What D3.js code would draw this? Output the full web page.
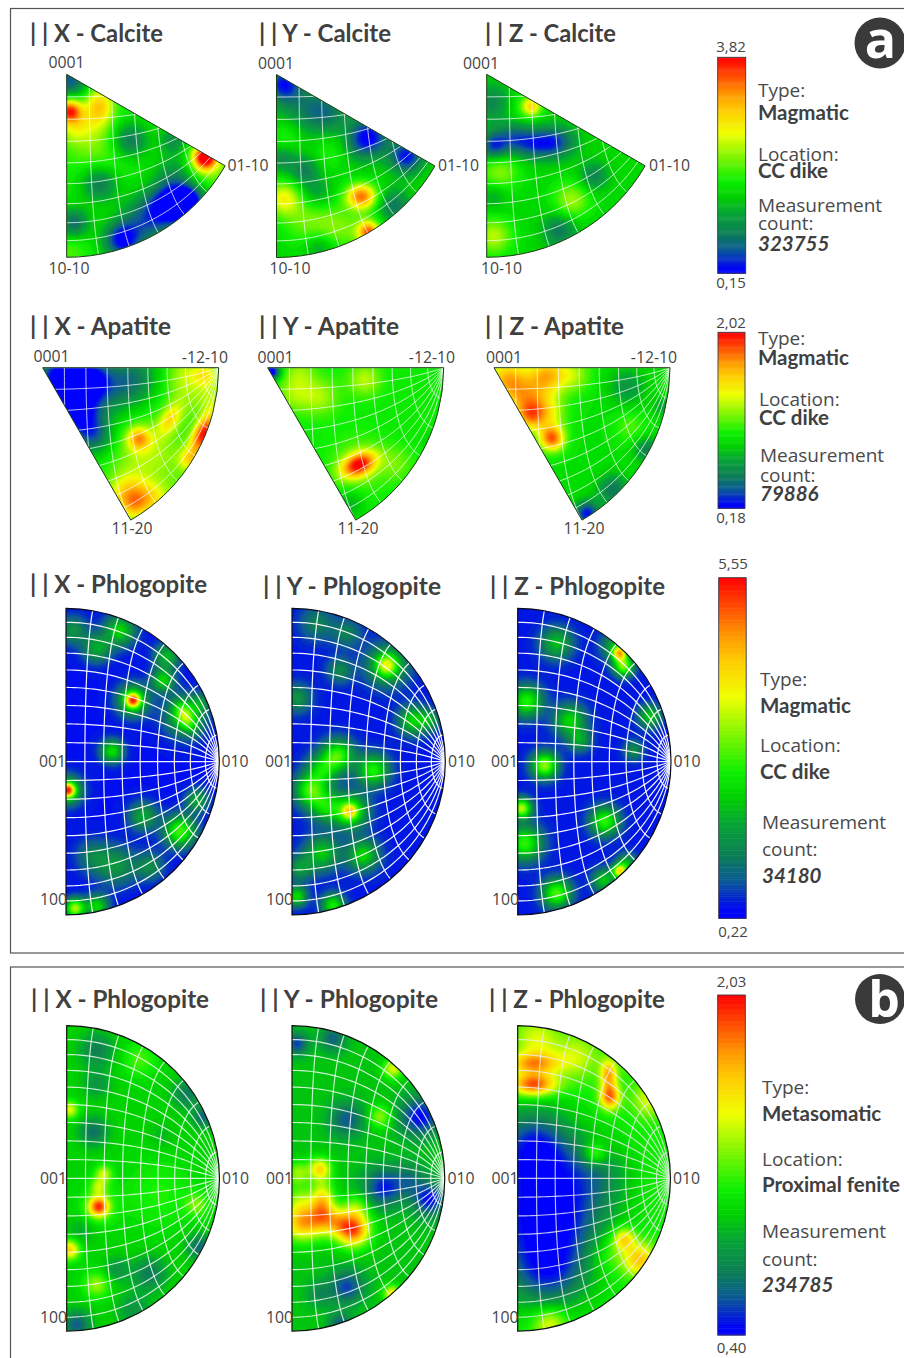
<!DOCTYPE html>
<html><head><meta charset="utf-8">
<style>html,body{margin:0;padding:0;background:#fff}svg{display:block}</style>
<script src="https://cdn.jsdelivr.net/npm/d3@7/dist/d3.min.js"></script>
</head><body><div id="c"></div>
<script>
// Colour scale levels
const colorLevels=[0,.03,.11,.185,.28,.355,.43,.525,.65,.756,.83,.91,1];
const colorValues=["#0000ff","#0008f0","#0a5a96","#0b7d55","#06a535","#00d000","#0cf000","#70f400","#f0ff00","#ffcc00","#ff9900","#ff5000","#ff0000"];

// Density hot/cold spots per pole figure: [offset right, offset down, level change, spread, spread2, tilt]
const calciteX=[[3,6,-.3,14],[3,36,.46,8],[8,50,.14,12],[33,31,.3,10,14],[17,53,.12,20],[63,66,-.25,13],[138,83,.55,8],[142,88,.2,14],
[117,130,-.38,14],[123,126,-.16,10],[55,166,-.38,13],[80,146,-.26,18],[100,130,-.26,15],[33,109,-.25,13],[7,149,-.26,11],[107,100,-.15,14],[107,66,-.18,10],[37,83,.08,20],[3,175,.08,12]];
const calciteY=[[7,9,-.3,12],[23,32,-.14,20],[50,39,-.18,16],[93,62,-.34,14],[130,82,-.34,12],[80,72,-.08,12],[10,59,.1,12],[53,76,.08,14],[28,96,-.18,11],[5,85,-.15,9],[40,119,-.12,11],
[7,124,.28,12],[85,122,.5,11,9],[30,146,.14,17],[60,152,.14,15],[92,157,.38,7],[92,160,.15,14],[117,132,-.2,12],[43,172,-.12,10]];
const calciteZ=[[7,29,-.18,14],[45,32,.33,7],[30,36,.08,14],[7,72,-.3,10],[53,69,-.32,20,11],[27,61,-.16,12],[73,66,-.1,12],[13,96,.18,14],[7,122,-.1,9],[85,126,.2,13],[7,162,.22,13],[73,156,-.2,12],[107,102,-.18,10]];
const apatiteX=[[17,9,-.42,15],[47,12,-.4,15],[31,39,-.4,17],[47,62,-.22,15],[91,9,-.2,18],[74,26,-.12,18],[144,7,.18,15],[164,7,.2,9],[171,32,.15,12],[127,52,.24,7,12,30],[140,35,.08,14],
[96,71,.3,8],[100,79,.1,20],[161,66,.55,7,15,25],[147,92,.2,8],[117,96,.1,30],[97,132,.32,20,12],[84,119,.14,14],[91,142,.1,9],[54,72,-.1,12]];
const apatiteY=[[4,4,-.45,6],[32,4,.12,11],[97,12,.18,12],[52,29,.16,14],[26,26,.14,13],[91,97,.5,13,8,-25],[91,97,.12,20],[129,96,.1,12],[82,136,-.12,10],[169,76,-.1,8]];
const apatiteZ=[[13,11,.36,15],[53,7,.34,13],[33,32,.31,16],[53,46,.22,13],[36,49,.24,10],[79,7,.18,13],[58,71,.48,9],[133,19,-.15,13],[93,146,-.36,9],[119,122,-.22,11],[153,82,-.2,9],[169,39,-.12,7],[136,59,.1,11]];
const phlogX=[[54,22,.33,11],[31,40,.25,10],[7,22,.2,10],[101,48,.28,9],[97,72,.33,8],[67,92,.58,5],[67,92,.38,11],[119,108,.28,6,11,-30],[119,108,.32,14],[46,143,.36,8],[2,182,.6,5],[2,182,.36,10],[77,208,.25,10],[114,223,.45,11],[131,192,.25,8],[51,258,.2,14],[27,248,.15,12],[84,258,.18,10],[9,300,.55,7],[31,298,.35,8],[134,95,.15,7]];
const phlogY=[[95,57,.3,7],[95,57,.34,14],[48,62,.17,9],[5,90,.2,10],[25,15,.15,12],[55,25,.15,10],[121,112,.33,10],[138,112,.2,7],[46,147,.42,11],[30,162,.3,11],[18,182,.4,11],[81,162,.4,11],[33,198,.3,11],[58,203,.3,5],[58,203,.44,12],[71,247,.33,11],[30,245,.3,12],[8,260,.2,9],[41,297,.38,8],[5,288,.35,7]];
const phlogZ=[[102,45,.55,5],[106,58,.48,7],[98,38,.25,10],[39,35,.28,11],[9,93,.4,11],[52,112,.33,11],[62,132,.22,8],[27,157,.52,9],[132,108,.3,8],[116,142,.18,7],[4,200,.55,7],[87,213,.42,10],[7,235,.42,12],[102,263,.6,5],[86,272,.3,8],[109,255,.25,7],[39,285,.45,10]];
const fenX=[[32,181,.5,7],[32,181,.1,14],[37,148,.24,6],[32,161,.2,6],[3,84,.28,6],[3,224,.38,7],[30,259,.2,9],[130,179,.16,8],[27,106,-.2,10],[30,24,-.17,12],[10,299,-.24,10],[83,248,-.18,12],[50,244,-.12,9],[30,58,-.12,10],[120,68,-.18,10],[137,91,-.22,8],[133,221,-.22,9],[67,284,-.12,12],[93,168,.08,25],[73,34,.12,12],[15,205,-.08,10],[95,110,-.05,10]];
const fenY=[[5,18,-.25,8],[41,13,-.2,9],[55,94,-.22,12],[91,162,-.28,14],[128,91,-.32,14],[138,174,-.3,12],[118,154,-.15,12],[55,261,-.25,12],[28,268,-.12,9],[48,298,-.2,8],[101,43,.3,7],[88,91,.22,8],[28,143,.36,8],[31,174,.32,8,14],[8,198,.38,13],[28,194,.28,12],[61,204,.58,12],[65,181,.18,9],[45,195,.2,10],[6,147,.22,8],[8,174,.18,12],[100,268,.35,6]];
const fenZ=[[19,168,-.24,45],[15,115,-.2,25],[26,134,-.1,30],[22,218,-.2,40],[49,188,-.12,35],[32,251,-.2,25],[82,148,-.12,22],[16,38,.36,18,8],[16,59,.5,16,8],[19,14,.2,16],[91,48,.36,6,10],[92,71,.46,7,9],[59,31,.18,16],[132,74,.2,12],[119,34,.12,10],[77,128,.22,8],[106,213,.3,8],[122,234,.34,12],[92,228,.12,14],[32,298,.25,12]];

const calciteOrigins=[[66.7,74.3],[276.5,74.5],[486.7,74.3]];
const apatiteOrigins=[[42.7,367.7],[267.7,367.7],[494,367.7]];
const phlogOrigins=[[66,608.3],[292,608.3],[517.7,608.3]];
const fenOrigins=[[66.7,1025.7],[292,1025.7],[517.7,1025.7]];

const figures=[
 {o:calciteOrigins[0],R:183,a0:30,a1:90,base:.42,peaks:calciteX},
 {o:calciteOrigins[1],R:183,a0:30,a1:90,base:.38,peaks:calciteY},
 {o:calciteOrigins[2],R:183,a0:30,a1:90,base:.38,peaks:calciteZ},
 {o:apatiteOrigins[0],R:176,a0:0,a1:60,base:.42,peaks:apatiteX},
 {o:apatiteOrigins[1],R:176,a0:0,a1:60,base:.42,peaks:apatiteY},
 {o:apatiteOrigins[2],R:176,a0:0,a1:60,base:.4,peaks:apatiteZ},
 {o:phlogOrigins[0],R:153.3,half:1,base:.04,peaks:phlogX,net:"#fff",netOp:.95,netW:1.2,edge:"#0a0a18"},
 {o:phlogOrigins[1],R:153.3,half:1,base:.05,peaks:phlogY,net:"#fff",netOp:.95,netW:1.2,edge:"#0a0a18"},
 {o:phlogOrigins[2],R:153.3,half:1,base:.05,peaks:phlogZ,net:"#fff",netOp:.95,netW:1.2,edge:"#0a0a18"},
 {o:fenOrigins[0],R:152.7,half:1,base:.37,peaks:fenX,net:"#fff",netOp:.8,netW:1.15,edge:"#0c140c"},
 {o:fenOrigins[1],R:152.7,half:1,base:.34,peaks:fenY,net:"#fff",netOp:.8,netW:1.15,edge:"#0c140c"},
 {o:fenOrigins[2],R:152.7,half:1,base:.44,peaks:fenZ,net:"#eee",netOp:.8,netW:1.15,edge:"#0c140c"}
];

const titleTexts=[
 ["| | X - Calcite",30,42,133],["| | Y - Calcite",259,42,132],["| | Z - Calcite",485,42,131],
 ["| | X - Apatite",30,335,141],["| | Y - Apatite",259,335,140],["| | Z - Apatite",485,335,139],
 ["| | X - Phlogopite",30,593,177],["| | Y - Phlogopite",263,595,178],["| | Z - Phlogopite",490,595,175],
 ["| | X - Phlogopite",31,1008,178],["| | Y - Phlogopite",260,1008,178],["| | Z - Phlogopite",489,1008,176]];
const axisTexts=[
 ["0001",66.5,68],["0001",276,69],["0001",481,69],["10-10",69,274],["10-10",290,274],["10-10",501.5,274],["01-10",248,171],["01-10",458.5,171],["01-10",669.5,171],
 ["0001",51.5,362],["0001",275.5,363],["0001",504,363],["-12-10",205,363],["-12-10",432,363],["-12-10",654,363],["11-20",132,534],["11-20",358,534],["11-20",584,534],
 ["001",52.5,767],["001",278.5,767],["001",504.5,767],["010",235,767],["010",461.5,767],["010",687,767],["100",53.5,905],["100",279.5,905],["100",505.5,905],
 ["001",53.5,1184],["001",279.5,1184],["001",505,1184],["010",235.5,1184],["010",461,1184],["010",686.5,1184],["100",53.5,1323],["100",279.5,1323],["100",505,1323]];
const bars=[
 {x:717.7,w:28,y0:57.3,y1:273.3,max:"3,82",min:"0,15",tx:731,maxY:52,minY:288},
 {x:718,w:27,y0:332.3,y1:508.3,max:"2,02",min:"0,18",tx:731,maxY:328,minY:523},
 {x:718.7,w:27.5,y0:577.7,y1:918.3,max:"5,55",min:"0,22",tx:733,maxY:569,minY:937},
 {x:717.7,w:27.6,y0:995,y1:1335,max:"2,03",min:"0,40",tx:731.5,maxY:987,minY:1353}];
const plainNotes=[
 ["Type:",758,97],["Location:",758,161],["Measurement",758,212],["count:",758,230],
 ["Type:",758,345],["Location:",759,406],["Measurement",760,462],["count:",760,482],
 ["Type:",760,686],["Location:",760,752],["Measurement",762,829],["count:",762,856],
 ["Type:",762,1094],["Location:",762,1166],["Measurement",762,1238],["count:",762,1266]];
const boldNotes=[
 ["Magmatic",758,120],["CC dike",758,178],["Magmatic",758,365],["CC dike",759,425],
 ["Magmatic",760,713],["CC dike",760,779],["Metasomatic",762,1121],["Proximal fenite",762,1192]];
const countNotes=[["323755",758,251],["79886",760,501],["34180",762,883],["234785",762,1292]];
const netDegrees=d3.range(10,90,10);
const frames=[[10.5,8.5,953],[10.5,967,1380]];
const badges=[["a",880,43,25.5,880.5,58,52],["b",880,999,25,884,1017,50]];

const W=904,H=1358,rad=Math.PI/180;
const svg=d3.select("#c").append("svg").attr("width",W).attr("height",H).attr("viewBox",[0,0,W,H]);
svg.append("rect").attr("width",W).attr("height",H).attr("fill","#fff");
svg.append("filter").attr("id","soft").attr("x","-5%").attr("y","-5%").attr("width","110%").attr("height","110%")
  .append("feGaussianBlur").attr("stdDeviation",.45);
const color=d3.scaleLinear().domain(colorLevels).range(colorValues).interpolate(d3.interpolateRgb).clamp(true);
const thresholds=d3.range(1/72,1,1/72);

figures.forEach((f,idx)=>{
  const [ax,ay]=f.o, R=f.R;
  const cy=f.half?ay+R:ay;
  const sx=d3.scaleLinear().domain([0,1]).range([ax,ax+R]);
  const sy=d3.scaleLinear().domain([0,1]).range([cy,cy+R]);
  const arc=f.half
    ? d3.arc().innerRadius(0).outerRadius(R).startAngle(0).endAngle(Math.PI)
    : d3.arc().innerRadius(0).outerRadius(R).startAngle((90+f.a0)*rad).endAngle((90+f.a1)*rad);
  const outline=arc();
  const id="clip"+idx;
  svg.append("clipPath").attr("id",id).append("path").attr("d",outline).attr("transform",`translate(${ax},${cy})`);
  const clipG=svg.append("g").attr("clip-path",`url(#${id})`);
  const g=clipG.append("g").attr("filter","url(#soft)");

  // density field
  const pw=R+4, ph=f.half?2*R+4:R+4, cell=1.5;
  const n=Math.ceil(pw/cell), m=Math.ceil(ph/cell);
  const vals=new Float64Array(n*m);
  const peaks=f.peaks.map(p=>{const t=(p[5]||0)*rad;return{x:p[0],y:p[1],a:p[2],s1:p[3],s2:p[4]||p[3],c:Math.cos(t),s:Math.sin(t)}});
  const pxG=d3.scaleLinear().domain([0,n]).range([ax-2,ax-2+n*cell]);
  const pyG=d3.scaleLinear().domain([0,m]).range([ay-2,ay-2+m*cell]);
  for(let j=0;j<m;j++)for(let i=0;i<n;i++){
    const X=pxG(i+.5)-ax,Y=pyG(j+.5)-ay;let v=f.base;
    for(const p of peaks){
      const dx=X-p.x,dy=Y-p.y,u=dx*p.c+dy*p.s,w=-dx*p.s+dy*p.c;
      v+=p.a*Math.exp(-(u*u/(2*p.s1*p.s1)+w*w/(2*p.s2*p.s2)));
    }
    vals[j*n+i]=Math.max(0,Math.min(1,v));
  }
  g.append("rect").attr("x",ax-6).attr("y",ay-6).attr("width",pw+12).attr("height",ph+12).attr("fill",color(d3.min(vals)));
  const proj=d3.geoTransform({point(x,y){this.stream.point(pxG(x),pyG(y));}});
  const geo=d3.geoPath(proj);
  g.selectAll("path.band").data(d3.contours().size([n,m]).smooth(true).thresholds(thresholds)(vals)).join("path")
    .attr("class","band").attr("d",geo).attr("fill",d=>color(d.value));

  // equal-area net (pole to the right of the projection centre)
  const lam=p=>{const k=Math.sqrt(1+p[2]);return [sx(p[0]/k),sy(p[1]/k)];};
  const line=d3.line().curve(d3.curveLinear);
  const samples=d3.range(-90,90.01,2);
  const nets=[];
  [0,...netDegrees,...netDegrees.map(d=>-d)].forEach(b=>{
    nets.push(samples.map(a=>lam([Math.sin(a*rad),Math.cos(a*rad)*Math.sin(b*rad),Math.cos(a*rad)*Math.cos(b*rad)])));
  });
  netDegrees.forEach(a=>{
    nets.push(samples.map(b=>lam([Math.sin(a*rad),Math.cos(a*rad)*Math.sin(b*rad),Math.cos(a*rad)*Math.cos(b*rad)])));
  });
  g.selectAll("path.net").data(nets).join("path").attr("class","net").attr("d",line)
    .attr("fill","none").attr("stroke",f.net||"#fff").attr("stroke-opacity",f.netOp||.72).attr("stroke-width",f.netW||1);
  svg.append("path").attr("d",outline).attr("transform",`translate(${ax},${cy})`)
    .attr("fill","none").attr("stroke",f.edge||"#1c3a16").attr("stroke-width",f.half?1.2:1);
});

// legend bars
bars.forEach((b,i)=>{
  const y=d3.scaleLinear().domain([0,1]).range([b.y1,b.y0]);
  const levels=d3.range(0,1,1/200);
  const g=svg.append("g");
  g.selectAll("rect").data(levels).join("rect").attr("x",b.x).attr("width",b.w)
    .attr("y",d=>y(d+1/200)).attr("height",d=>y(d)-y(d+1/200)+.5).attr("fill",d=>color(d+1/400));
  svg.append("rect").attr("x",b.x).attr("y",b.y0).attr("width",b.w).attr("height",b.y1-b.y0)
    .attr("fill","none").attr("stroke","#3a3a4a").attr("stroke-width",.9);
  [[b.max,b.maxY],[b.min,b.minY]].forEach(t=>svg.append("text").attr("x",b.tx).attr("y",t[1]).attr("text-anchor","middle")
    .attr("font-family","Open Sans").attr("font-size",15).attr("fill","#444").text(t[0]));
});

// text
svg.append("g").selectAll("text").data(titleTexts).join("text").attr("x",d=>d[1]).attr("y",d=>d[2]).text(d=>d[0])
  .attr("font-family","Lato").attr("font-weight",700).attr("font-size",24).attr("fill","#404040")
  .attr("textLength",d=>d[3]).attr("lengthAdjust","spacingAndGlyphs");
svg.append("g").selectAll("text").data(axisTexts).join("text").attr("x",d=>d[1]).attr("y",d=>d[2]).text(d=>d[0])
  .attr("text-anchor","middle").attr("font-family","Open Sans").attr("font-size",15.8).attr("fill","#444");
svg.append("g").selectAll("text").data(plainNotes).join("text").attr("x",d=>d[1]).attr("y",d=>d[2]).text(d=>d[0])
  .attr("font-family","Open Sans").attr("font-size",19).attr("fill","#4a4a4a");
svg.append("g").selectAll("text").data(boldNotes).join("text").attr("x",d=>d[1]).attr("y",d=>d[2]).text(d=>d[0])
  .attr("font-family","Lato").attr("font-weight",700).attr("font-size",20.5).attr("fill","#404040");
svg.append("g").selectAll("text").data(countNotes).join("text").attr("x",d=>d[1]).attr("y",d=>d[2]).text(d=>d[0])
  .attr("font-family","Lato").attr("font-weight",700).attr("font-style","italic").attr("font-size",20.5).attr("fill","#404040");

// frames and badges
svg.append("g").selectAll("rect").data(frames).join("rect").attr("x",d=>d[0]).attr("y",d=>d[1]).attr("width",W+20).attr("height",d=>d[2]-d[1])
  .attr("fill","none").attr("stroke","#555").attr("stroke-width",1.2);
badges.forEach(b=>{
  svg.append("circle").attr("cx",b[1]).attr("cy",b[2]).attr("r",b[3]).attr("fill","#3a3a3a");
  svg.append("text").attr("x",b[4]).attr("y",b[5]).attr("text-anchor","middle")
    .attr("font-family","Open Sans").attr("font-weight",700).attr("font-size",b[6]).attr("fill","#fff").text(b[0]);
});
</script></body></html>
